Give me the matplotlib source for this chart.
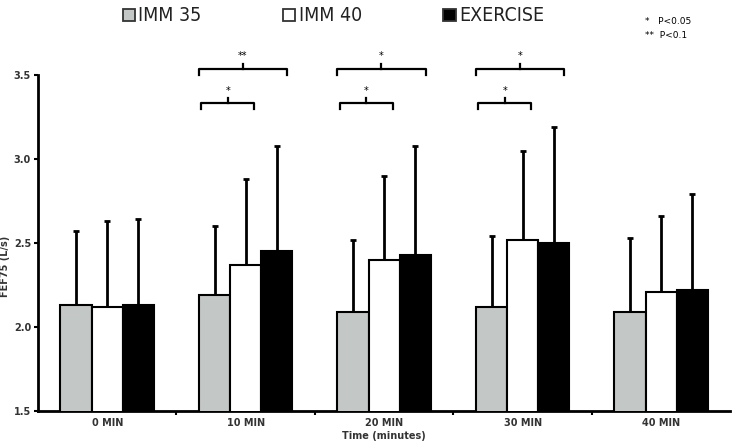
import numpy as np
import matplotlib.pyplot as plt

# Data
times = ["0 MIN", "10 MIN", "20 MIN", "30 MIN", "40 MIN"]
imm35 = [2.13, 2.19, 2.09, 2.12, 2.09]
imm40 = [2.12, 2.37, 2.40, 2.52, 2.21]
exercise = [2.13, 2.45, 2.43, 2.50, 2.22]
imm35_sd = [0.44, 0.41, 0.43, 0.42, 0.44]
imm40_sd = [0.51, 0.51, 0.50, 0.53, 0.45]
exercise_sd = [0.51, 0.63, 0.65, 0.69, 0.57]
series_names = ["IMM 35", "IMM 40", "EXERCISE"]
series_colors = ["#c3c8c6", "white", "black"]
# significance brackets: (time index, lower mark, upper mark)
sig_index = [1, 2, 3]
sig_lower = ["*", "*", "*"]
sig_upper = ["**", "*", "*"]

fig = plt.figure(figsize=(7.39, 4.46), dpi=100)
ax = fig.add_axes([0.0514, 0.0785, 0.937, 0.7535])

x = np.arange(len(times))
w = 0.225
for k, (vals, sds, col) in enumerate(zip([imm35, imm40, exercise],
                                         [imm35_sd, imm40_sd, exercise_sd],
                                         series_colors)):
    ax.bar(x + (k - 1) * w, vals, w, color=col, edgecolor="black", linewidth=1.5, zorder=3)
    ax.errorbar(x + (k - 1) * w, vals, yerr=[np.zeros(len(sds)), sds], fmt="none",
                ecolor="black", elinewidth=2, capsize=2.5, capthick=2, zorder=2)

ax.set_xlim(-0.5, len(times) - 0.5)
ax.set_ylim(1.5, 3.5)
ax.set_yticks([1.5, 2.0, 2.5, 3.0, 3.5])
ax.set_yticklabels(["1.5", "2.0", "2.5", "3.0", "3.5"], fontsize=7, fontweight="bold", color="#333333")
ax.set_xticks(x)
ax.set_xticklabels(times, fontsize=7, fontweight="bold", color="#333333")
ax.tick_params(axis="x", length=0, pad=5)
ax.tick_params(axis="y", length=3, width=1.5, pad=2)
ax.set_xticks(np.arange(0.5, len(times) - 0.5, 1), minor=True)
ax.tick_params(axis="x", which="minor", length=3, width=1.5)
for s in ["top", "right"]:
    ax.spines[s].set_visible(False)
ax.spines["left"].set_linewidth(2)
ax.spines["bottom"].set_linewidth(2)
ax.set_xlabel("Time (minutes)", fontsize=7, fontweight="bold", color="#333333", labelpad=2)
ax.set_ylabel("FEF75 (L/s)", fontsize=7, fontweight="bold", color="#333333")
ax.yaxis.set_label_coords(-0.04, 0.43)


def bracket(x0, x1, y, label):
    xm = (x0 + x1) / 2
    ax.plot([x0, x0, x1, x1], [y - 0.035, y, y, y - 0.035], color="black", lw=1.6,
            clip_on=False, solid_joinstyle="round")
    ax.plot([xm, xm], [y, y + 0.03], color="black", lw=1.6, clip_on=False)
    ax.text(xm, y + 0.045, label, ha="center", va="bottom", fontsize=7, clip_on=False)


for i, lo, up in zip(sig_index, sig_lower, sig_upper):
    bracket(i - 0.32, i + 0.06, 3.33, lo)
    bracket(i - 0.34, i + 0.30, 3.535, up)

# legend along the top
leg_x = [0.166, 0.383, 0.600]
for lx, name, col in zip(leg_x, series_names, series_colors):
    fig.patches.append(plt.Rectangle((lx, 0.952), 0.0165, 0.028, transform=fig.transFigure,
                                     facecolor=col, edgecolor="#333333", linewidth=1.3))
    fig.text(lx + 0.021, 0.966, name, fontsize=14, va="center", ha="left",
             family="DejaVu Sans", fontstretch="condensed", color="#222222")

fig.text(0.873, 0.951, "*   P<0.05", fontsize=6.5, va="center", ha="left")
fig.text(0.873, 0.921, "**  P<0.1", fontsize=6.5, va="center", ha="left")

fig.savefig("out.png", dpi=100)
